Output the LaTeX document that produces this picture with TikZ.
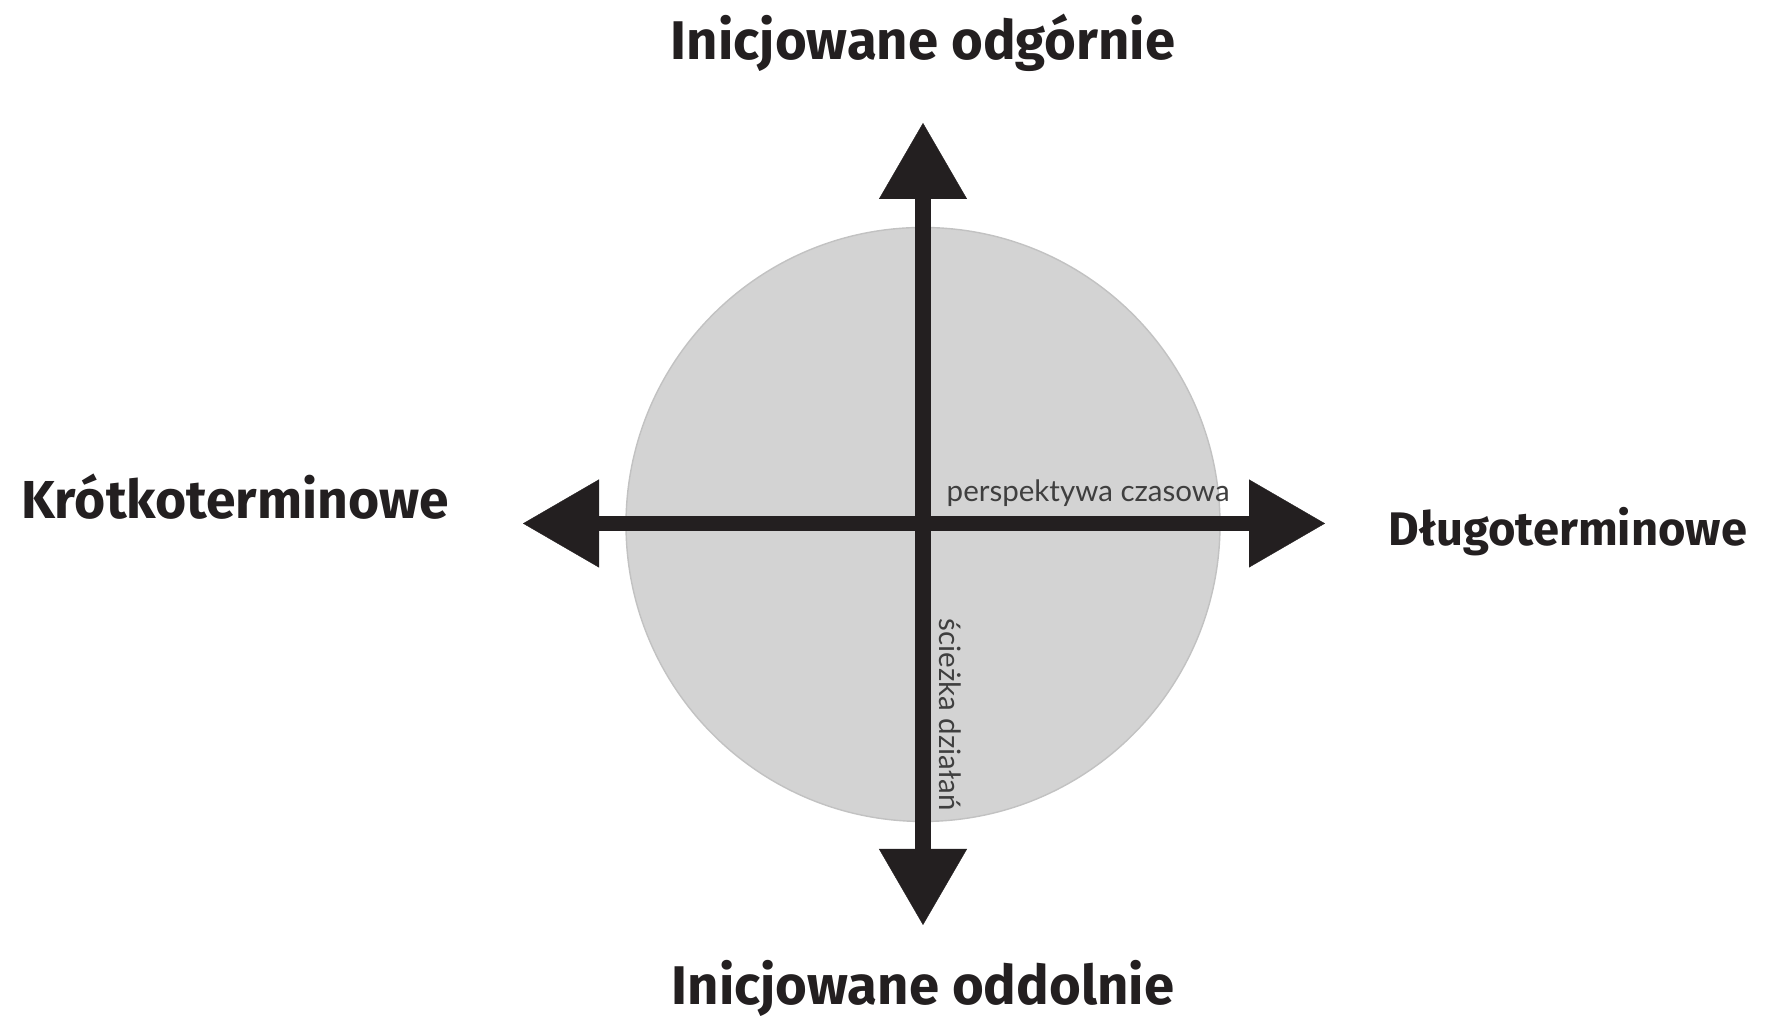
\documentclass[tikz,border=0pt]{standalone}
\usepackage{fontspec}
\setmainfont{Fira Sans}
\newfontfamily\headfont{Fira Sans}
\newfontfamily\notefont{Lato}
\usetikzlibrary{arrows.meta, positioning, calc}
\definecolor{axisblack}{HTML}{231F20}
\definecolor{discgray}{HTML}{D3D3D3}
\definecolor{notegray}{HTML}{3F3F3F}

\begin{document}
\begin{tikzpicture}[
			disc/.style={circle, fill=discgray, draw=discgray!92!black, line width=0.4pt, minimum size=5.94cm, inner sep=0pt},
			axis/.style={{Triangle[length=7.6mm, width=8.8mm, line width=0.1pt]}-{Triangle[length=7.6mm, width=8.8mm, line width=0.1pt]}, line width=4.3pt, draw=axisblack},
			pole/.style={font=\headfont\bfseries\fontsize{15.5}{18}\selectfont, text=axisblack, inner sep=0pt, anchor=base},
			note/.style={font=\notefont\fontsize{8.4}{10}\selectfont, text=notegray, inner sep=0pt, anchor=base west}
		]
		\useasboundingbox (0,0) rectangle (17.8,10.2);
		\node[disc] (disc) at (9.23,4.955) {};
		
		\coordinate (up) at (9.23,8.97);
		\coordinate (down) at (9.23,0.95);
		\coordinate (west) at (5.23,4.965);
		\coordinate (east) at (13.25,4.965);
		
		\draw[axis] (west) -- (east);
		\draw[axis] (down) -- (up);
		
		\node[pole] (top) at (9.23,9.60) {Inicjowane odgórnie};
		\node[pole] (bottom) at (9.23,0.15) {Inicjowane oddolnie};
		\node[pole, font=\headfont\bfseries\fontsize{15.2}{18}\selectfont] (short) at (2.35,5.01) {Krótkoterminowe};
		\node[pole, font=\headfont\bfseries\fontsize{13.4}{16}\selectfont] (long) at (15.68,4.74) {Długoterminowe};
		
		\node[note] (time) at (9.46,5.18) {perspektywa czasowa};
		\node[note, rotate=-90] (path) at (9.39,4.02) {ścieżka działań};
		\end{tikzpicture}
\end{document}
